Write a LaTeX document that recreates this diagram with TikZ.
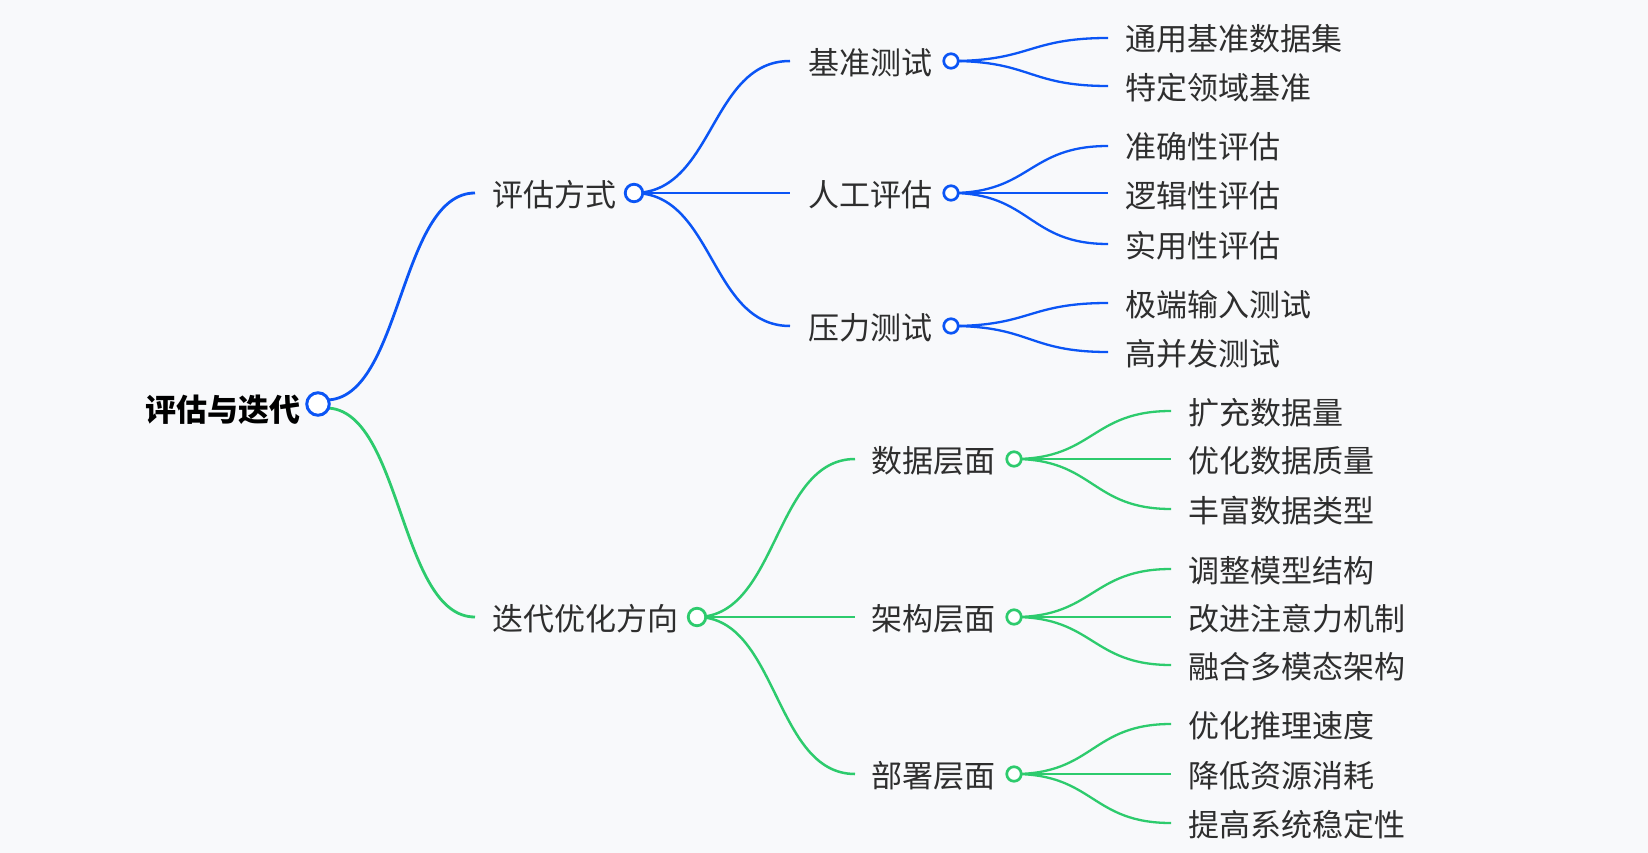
\documentclass[tikz,border=0pt]{standalone}
\usepackage{fontspec}
\setmainfont{Noto Sans CJK SC}
\definecolor{bluel}{HTML}{0B55F5}
\definecolor{greenl}{HTML}{2DCB6D}
\definecolor{txt}{HTML}{2E2E2E}
\definecolor{bg}{HTML}{F8F9FB}
\begin{document}
\begin{tikzpicture}[x=1pt,y=-1pt,
  lbl/.style={anchor=west,inner sep=0pt,text=txt,font=\fontsize{31}{31}\selectfont},
  rootlbl/.style={anchor=east,inner sep=0pt,text=black,font=\fontsize{31}{31}\selectfont\bfseries},
  dotA/.style={circle,draw,fill=white,line width=3pt,minimum size=22.5pt,inner sep=0pt},
  dotB/.style={circle,draw,fill=white,line width=2.8pt,minimum size=17.5pt,inner sep=0pt},
  dotC/.style={circle,draw,fill=white,line width=2.7pt,minimum size=14.5pt,inner sep=0pt},
  lnA/.style={line width=2.8pt},
  lnB/.style={line width=2.5pt},
  lnC/.style={line width=2.3pt},
]
\fill[bg] (0,0) rectangle (1648,853);
\useasboundingbox (0,0) rectangle (1648,853);

% ---------- coordinates (curve ends) ----------
\coordinate (e1) at (475,193);
\coordinate (e2) at (475,617);
\coordinate (e11) at (790,61);
\coordinate (e12) at (790,193);
\coordinate (e13) at (790,326);
\coordinate (e21) at (855,459);
\coordinate (e22) at (855,617);
\coordinate (e23) at (855,774);
\coordinate (f111) at (1108,38);
\coordinate (f112) at (1108,86);
\coordinate (f121) at (1108,146);
\coordinate (f122) at (1108,193);
\coordinate (f123) at (1108,244);
\coordinate (f131) at (1108,303);
\coordinate (f132) at (1108,352);
\coordinate (f211) at (1171,411);
\coordinate (f212) at (1171,459);
\coordinate (f213) at (1171,509);
\coordinate (f221) at (1171,569);
\coordinate (f222) at (1171,617);
\coordinate (f223) at (1171,665);
\coordinate (f231) at (1171,724);
\coordinate (f232) at (1171,774);
\coordinate (f233) at (1171,823);

% ---------- labels ----------
\node[rootlbl] (root) at (301,410) {评估与迭代};
\node[lbl] (t1) at (492,195) {评估方式};
\node[lbl] (t2) at (492,619) {迭代优化方向};
\node[lbl] (t11) at (808,63) {基准测试};
\node[lbl] (t12) at (808,195) {人工评估};
\node[lbl] (t13) at (808,328) {压力测试};
\node[lbl] (t21) at (871,461) {数据层面};
\node[lbl] (t22) at (871,619) {架构层面};
\node[lbl] (t23) at (871,776) {部署层面};

\node[lbl] (u111) at (1125,39) {通用基准数据集};
\node[lbl] (u112) at (1125,88) {特定领域基准};
\node[lbl] (u121) at (1125,147) {准确性评估};
\node[lbl] (u122) at (1125,196) {逻辑性评估};
\node[lbl] (u123) at (1125,246) {实用性评估};
\node[lbl] (u131) at (1125,305) {极端输入测试};
\node[lbl] (u132) at (1125,354) {高并发测试};
\node[lbl] (u211) at (1188,413) {扩充数据量};
\node[lbl] (u212) at (1188,461) {优化数据质量};
\node[lbl] (u213) at (1188,511) {丰富数据类型};
\node[lbl] (u221) at (1188,571) {调整模型结构};
\node[lbl] (u222) at (1188,619) {改进注意力机制};
\node[lbl] (u223) at (1188,667) {融合多模态架构};
\node[lbl] (u231) at (1188,726) {优化推理速度};
\node[lbl] (u232) at (1188,776) {降低资源消耗};
\node[lbl] (u233) at (1188,825) {提高系统稳定性};

% ---------- circle positions ----------
\coordinate (cr) at (318,404);
\coordinate (cra) at (326,400);
\coordinate (crb) at (326,408);
\coordinate (c1) at (634,193);
\coordinate (c2) at (697,617);
\coordinate (c11) at (951,61);
\coordinate (c12) at (951,193);
\coordinate (c13) at (951,326);
\coordinate (c21) at (1014,459);
\coordinate (c22) at (1014,617);
\coordinate (c23) at (1014,774);

% ---------- connectors ----------
\draw[bluel,lnA] (cra) .. controls +(76,0) and +(-76,0) .. (e1);
\draw[greenl,lnA] (crb) .. controls +(76,0) and +(-76,0) .. (e2);
\foreach \e in {e11,e12,e13}{
  \draw[bluel,lnB] (c1) .. controls +(80,0) and +(-80,0) .. (\e);
}
\foreach \e in {e21,e22,e23}{
  \draw[greenl,lnB] (c2) .. controls +(81,0) and +(-81,0) .. (\e);
}
\foreach \c/\e in {c11/f111,c11/f112,c12/f121,c12/f122,c12/f123,c13/f131,c13/f132}{
  \draw[bluel,lnC] (\c) .. controls +(80,0) and +(-80,0) .. (\e);
}
\foreach \c/\e in {c21/f211,c21/f212,c21/f213,c22/f221,c22/f222,c22/f223,c23/f231,c23/f232,c23/f233}{
  \draw[greenl,lnC] (\c) .. controls +(80,0) and +(-80,0) .. (\e);
}

% ---------- circles ----------
\node[dotA,draw=bluel] (nr) at (cr) {};
\node[dotB,draw=bluel] (n1) at (c1) {};
\node[dotB,draw=greenl] (n2) at (c2) {};
\node[dotC,draw=bluel] (n11) at (c11) {};
\node[dotC,draw=bluel] (n12) at (c12) {};
\node[dotC,draw=bluel] (n13) at (c13) {};
\node[dotC,draw=greenl] (n21) at (c21) {};
\node[dotC,draw=greenl] (n22) at (c22) {};
\node[dotC,draw=greenl] (n23) at (c23) {};
\end{tikzpicture}
\end{document}
